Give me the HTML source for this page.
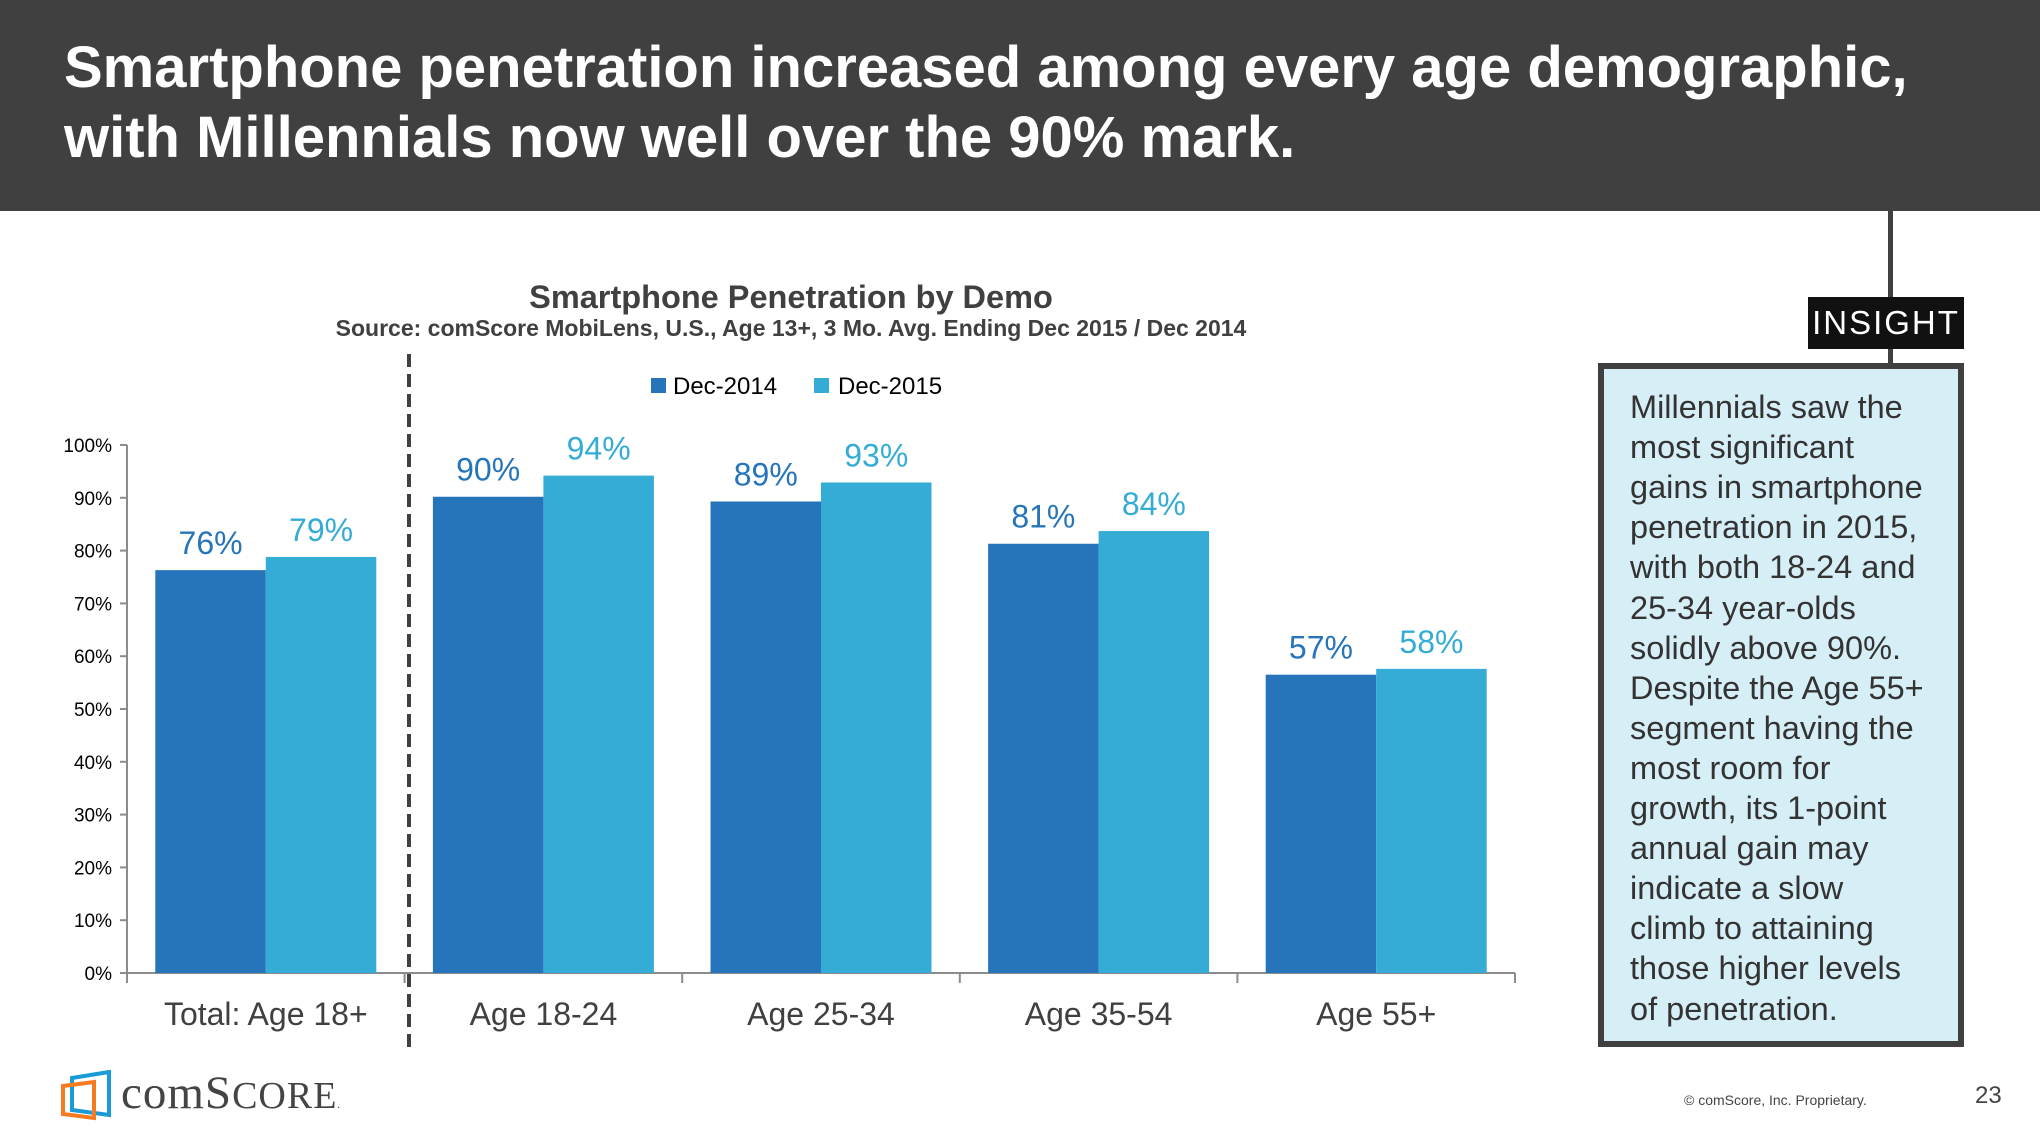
<!DOCTYPE html>
<html><head><meta charset="utf-8">
<style>
body{margin:0;width:2040px;height:1148px;background:#fff;position:relative;overflow:hidden;font-family:"Liberation Sans",sans-serif;}
.abs{position:absolute;}
#hdr{left:0;top:0;width:2040px;height:211px;background:#404040;}
#hdr div{position:absolute;left:64px;color:#fff;font-weight:bold;font-size:58px;line-height:70px;white-space:nowrap;}
.ins-line{position:absolute;left:1630px;font-size:32.5px;color:#333;white-space:nowrap;}
</style></head><body>
<div id="hdr" class="abs">
<div style="top:33px">Smartphone penetration increased among every age demographic,</div>
<div style="top:103px">with Millennials now well over the 90% mark.</div>
</div>

<svg class="abs" style="left:0;top:0" width="2040" height="1148">
<text x="791" y="308" text-anchor="middle" font-family="Liberation Sans" font-weight="bold" font-size="32.5" fill="#404040">Smartphone Penetration by Demo</text>
<text x="791" y="336" text-anchor="middle" font-family="Liberation Sans" font-weight="bold" font-size="23" fill="#404040">Source: comScore MobiLens, U.S., Age 13+, 3 Mo. Avg. Ending Dec 2015 / Dec 2014</text>
<rect x="651" y="378" width="15" height="15" fill="#2674b9"/>
<text x="673" y="394" font-family="Liberation Sans" font-size="24" fill="#000">Dec-2014</text>
<rect x="814" y="378" width="15" height="15" fill="#34acd6"/>
<text x="838" y="394" font-family="Liberation Sans" font-size="24" fill="#000">Dec-2015</text>
<g id="plot"></g>
<line x1="409" y1="354" x2="409" y2="1051" stroke="#404040" stroke-width="4" stroke-dasharray="13,7"/>
</svg>

<div class="abs" style="left:1888px;top:211px;width:5px;height:155px;background:#404040"></div>
<div class="abs" style="left:1808px;top:297px;width:156px;height:52px;background:#111;color:#fff;font-size:33px;line-height:52px;text-align:center;letter-spacing:2px;">INSIGHT</div>
<div class="abs" style="left:1598px;top:363px;width:354px;height:672px;border:6px solid #404040;background:#d6eef6"></div>
<div id="ins"></div>

<svg class="abs" style="left:60px;top:1070px" width="60" height="52">
<polygon points="12,8 49,2 49,45 12,40" fill="none" stroke="#1a9ad6" stroke-width="4"/>
<polygon points="3,20 34,16 34,52 3,48" fill="none" stroke="#f47b20" stroke-width="4" transform="translate(0,-4)"/>
</svg>
<div class="abs" style="left:121px;top:1066px;font-family:'Liberation Serif',serif;font-size:47px;color:#444;white-space:nowrap;letter-spacing:1px">com<span>S</span><span style="font-size:38px">CORE</span><span style="font-size:10px">.</span></div>
<div class="abs" style="left:1684px;top:1092px;font-size:14px;color:#444">© comScore, Inc. Proprietary.</div>
<div class="abs" style="left:1975px;top:1082px;font-size:24px;color:#444">23</div>

<script>
const categories=["Total: Age 18+","Age 18-24","Age 25-34","Age 35-54","Age 55+"];
const dec2014=[76.3,90.2,89.3,81.3,56.5];
const dec2015=[78.8,94.2,92.9,83.7,57.6];
const labels2014=["76%","90%","89%","81%","57%"];
const labels2015=["79%","94%","93%","84%","58%"];
const yTicks=[0,10,20,30,40,50,60,70,80,90,100];
const insightLines=["Millennials saw the","most significant","gains in smartphone","penetration in 2015,","with both 18-24 and","25-34 year-olds","solidly above 90%.","Despite the Age 55+","segment having the","most room for","growth, its 1-point","annual gain may","indicate a slow","climb to attaining","those higher levels","of penetration."];

const NS="http://www.w3.org/2000/svg";
const g=document.getElementById('plot');
const x0=127,x1=1515,yB=973,yT=445;
const y=v=>yB-(v/100)*(yB-yT);
const gw=(x1-x0)/categories.length;
const bw=110.5, pad=(gw-2*bw)/2;
function mk(t,a,txt){const e=document.createElementNS(NS,t);for(const k in a)e.setAttribute(k,a[k]);if(txt!==undefined)e.textContent=txt;g.appendChild(e);return e;}
let e=mk('line',{x1:x0,y1:yT,x2:x0,y2:yB,stroke:'#8c8c8c','stroke-width':2});


yTicks.forEach(t=>{
 let l=mk('line',{x1:x0-7,y1:y(t),x2:x0,y2:y(t),stroke:'#8c8c8c','stroke-width':2});
 
 
 let tx=mk('text',{x:112,y:y(t)+7,'text-anchor':'end','font-family':'Liberation Sans','font-size':19,fill:'#000'},t+'%');
 
 
});
e=mk('line',{x1:x0,y1:yB,x2:x1,y2:yB,stroke:'#8c8c8c','stroke-width':2});


for(let i=0;i<=categories.length;i++){
 let l=mk('line',{x1:x0+i*gw,y1:yB,x2:x0+i*gw,y2:yB+10,stroke:'#8c8c8c','stroke-width':2});
 
 
}
categories.forEach((c,i)=>{
 const gx=x0+i*gw;
 const xa=gx+pad, xb=gx+pad+bw;
 let r=mk('rect',{x:xa,y:y(dec2014[i]),width:bw,height:yB-y(dec2014[i]),fill:'#2674b9'});
 
 
 r=mk('rect',{x:xb,y:y(dec2015[i]),width:bw,height:yB-y(dec2015[i]),fill:'#34acd6'});
 
 
 let t=mk('text',{x:xa+bw/2,y:y(dec2014[i])-16,'text-anchor':'middle','font-family':'Liberation Sans','font-size':32,fill:'#2674b9'},labels2014[i]);
 
 
 t=mk('text',{x:xb+bw/2,y:y(dec2015[i])-16,'text-anchor':'middle','font-family':'Liberation Sans','font-size':32,fill:'#34acd6'},labels2015[i]);
 
 
 t=mk('text',{x:gx+gw/2,y:1025,'text-anchor':'middle','font-family':'Liberation Sans','font-size':32,fill:'#404040'},c);
 
 
});
const ins=document.getElementById('ins');
insightLines.forEach((s,i)=>{
 const d=document.createElement('div');
 d.className='ins-line';
 d.style.top=(389+i*40.1)+'px';
 d.textContent=s;
 
 
 ins.appendChild(d);
});
</script>
</body></html>
